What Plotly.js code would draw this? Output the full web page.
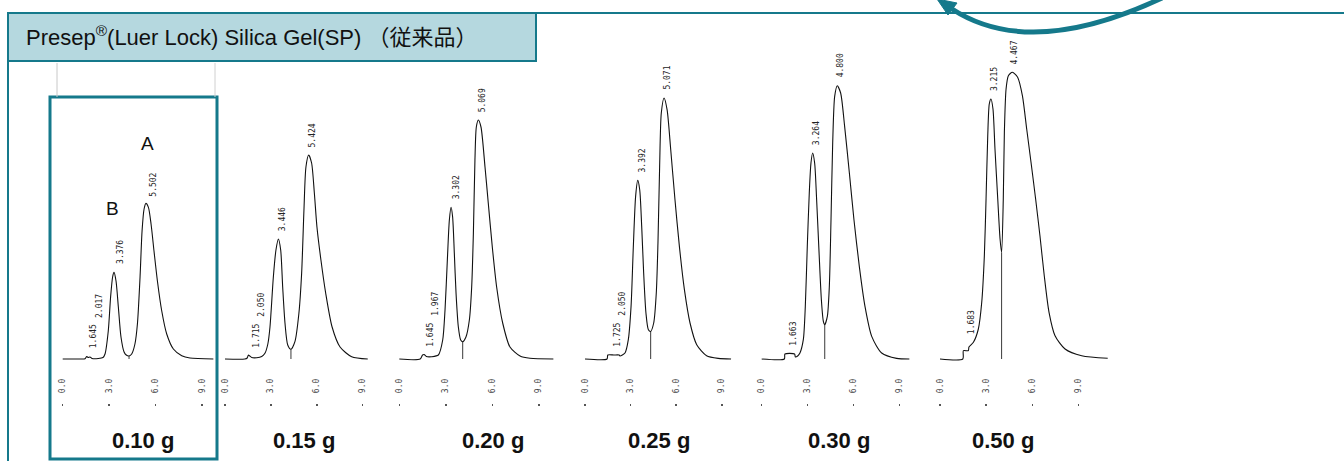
<!DOCTYPE html>
<html><head><meta charset="utf-8">
<script src="https://cdn.plot.ly/plotly-3.0.1.min.js"></script>
<style>html,body{margin:0;padding:0;background:#fff;overflow:hidden}#chart{width:1344px;height:461px}</style>
</head><body><div id="chart"></div>
<script>
// ---------- data ----------
const loadings = ['0.10 g','0.15 g','0.20 g','0.25 g','0.30 g','0.50 g'];

const time_010   = [0,1.2,1.44,1.55,1.65,1.76,1.9,2.3,2.6,2.73,2.94,3.09,3.22,3.31,3.44,3.59,3.76,3.96,4.1,4.28,4.45,4.66,4.82,4.99,5.12,5.25,5.37,5.53,5.7,5.89,6.11,6.39,6.71,7.14,7.68,8.21,9.72];
const signal_010 = [0,0,0.3,2.5,1.5,2,0.5,0.5,1.5,5,28,62,82,86.6,78,52,22,7,4,3,5,15,35,82,128,150,155.6,151.6,135,108,78,48,25,10,3.3,1,0];
const peaks_010  = ['1.645','2.017','3.376','5.502'];

const time_015   = [0,1.3,1.45,1.53,1.62,1.75,2.07,2.4,2.61,2.8,2.94,3.16,3.33,3.49,3.64,3.77,3.92,4.1,4.31,4.57,4.83,5.01,5.16,5.29,5.47,5.66,5.84,6.01,6.27,6.58,7.0,7.52,8.28,9.33];
const signal_015 = [0,0,1,4,3,1.5,1.3,2.5,5.7,15,32,82,109,120,109,72,36,14,9.7,17.3,45.7,86,149,192,204,196,166,132,99,66,32,12,2.3,0];
const peaks_015  = ['1.715','2.050','3.446','5.424'];

const time_020   = [0,1.35,1.5,1.6,1.75,2.09,2.52,2.8,2.95,3.1,3.23,3.34,3.44,3.55,3.66,3.81,3.96,4.09,4.3,4.52,4.67,4.78,4.88,4.97,5.1,5.27,5.53,5.74,6.0,6.28,6.67,7.14,7.79,8.43,9.94];
const signal_020 = [0,0,4,4.5,2.5,2.3,4,19,49,99,139,151.7,142,106,66,32,19,17.3,22,39,72,126,199,232,239,232,192,156,112,72,36,12,3,0.7,0];
const peaks_020  = ['1.645','1.967','3.302','5.069'];

const time_025   = [0,1.45,1.5,1.9,2.25,2.3,2.63,2.85,3.03,3.18,3.33,3.47,3.6,3.73,3.86,4.01,4.17,4.32,4.52,4.69,4.8,4.91,5.02,5.2,5.4,5.64,5.92,6.21,6.54,6.91,7.35,8.0,8.77,9.61];
const signal_025 = [0,0,4,4,4,3,6,19.3,52.6,112.6,162.6,178.6,169.3,132.6,86,46,29.3,27.6,36,66,116,192.6,246,261,249.3,209.3,159.3,112.6,69.3,36,14.3,3.3,0.6,0];
const peaks_025  = ['1.725','2.050','3.392','5.071'];

const time_030   = [0,1.48,1.52,2.15,2.2,2.35,2.5,2.72,2.85,2.98,3.11,3.22,3.33,3.46,3.59,3.75,3.9,4.03,4.12,4.29,4.42,4.53,4.64,4.77,4.94,5.16,5.42,5.73,6.03,6.38,6.75,7.19,7.84,8.82,9.65];
const signal_030 = [0,0,5,5,2,3,6,19.3,52.6,112.6,166,196,206,196,159.3,106,59.3,37.6,34.3,42.6,72.6,139.3,216,262.6,273.3,266,232.6,186,139.3,92.6,52.6,22.6,6,0.6,0];
const peaks_030  = ['1.663','3.264','4.800'];

const time_050   = [0,1.48,1.52,1.84,1.88,2.17,2.49,2.71,2.88,2.99,3.1,3.2,3.31,3.44,3.57,3.75,3.9,4.0,4.11,4.18,4.29,4.44,4.7,5.04,5.35,5.63,5.91,6.21,6.49,6.77,7.08,7.47,8.12,9.2,10.89];
const signal_050 = [0,0,8.3,8.3,12,16.7,30,56.7,103.3,160,223.3,255,260,250,210,160,120,106.7,160,226.7,270,283.3,286.7,281.7,263.3,230,196.7,160,123.3,83.3,46.7,23.3,10,3.3,0.7];
const peaks_050  = ['1.683','3.215','4.467'];

const tickVals = [0,3,6,9];
const tickText = ['0.0','3.0','6.0','9.0'];

const headerText = 'Presep<sup>®</sup>(Luer Lock) Silica Gel(SP) （従来品）';

// ---------- layout ----------
const W = 1344, H = 461;
const TEAL = '#15798b';
const px = x => x / W, py = y => 1 - y / H;

const panels = [
  {t: time_010, s: signal_010, p: peaks_010, x0: 62.7, ppm: 15.5, lx: 143},
  {t: time_015, s: signal_015, p: peaks_015, x0: 225,  ppm: 15.3, lx: 303.5},
  {t: time_020, s: signal_020, p: peaks_020, x0: 399.3,ppm: 15.5, lx: 492.5},
  {t: time_025, s: signal_025, p: peaks_025, x0: 585,  ppm: 15.2, lx: 659},
  {t: time_030, s: signal_030, p: peaks_030, x0: 761.7,ppm: 15.3, lx: 838.5},
  {t: time_050, s: signal_050, p: peaks_050, x0: 940,  ppm: 15.4, lx: 1002.5}
];

const RMIN = -0.4, RMAX = 11.2;
const yTopPx = 50, yAxisPx = 403, basePx = 359;

function interp(t, s, x) {
  if (x <= t[0]) return s[0];
  for (let i = 1; i < t.length; i++) {
    if (x <= t[i]) { const f = (x - t[i-1]) / (t[i] - t[i-1]); return s[i-1] + f * (s[i] - s[i-1]); }
  }
  return s[s.length - 1];
}
function maxIn(t, s, a, b) {
  let m = Math.max(interp(t, s, a), interp(t, s, b));
  for (let i = 0; i < t.length; i++) if (t[i] >= a && t[i] <= b) m = Math.max(m, s[i]);
  return m;
}

const traces = [], annotations = [], layout = {
  width: W, height: H, margin: {l: 0, r: 0, t: 0, b: 0},
  paper_bgcolor: '#fff', plot_bgcolor: 'rgba(0,0,0,0)', showlegend: false,
  font: {family: 'Liberation Sans, Arial, sans-serif'}
};

panels.forEach((P, i) => {
  const k = i + 1, xa = 'x' + (k === 1 ? '' : k), ya = 'y' + (k === 1 ? '' : k);
  layout['xaxis' + (k === 1 ? '' : k)] = {
    domain: [px(P.x0 + RMIN * P.ppm), px(P.x0 + RMAX * P.ppm)],
    range: [RMIN, RMAX], anchor: ya, fixedrange: true,
    showgrid: false, zeroline: false, showline: false,
    tickvals: tickVals, ticktext: tickText, tickangle: -90,
    ticks: 'outside', ticklen: 2, tickwidth: 1.5, tickcolor: '#555',
    ticklabelposition: 'inside', ticklabelstandoff: 4,
    tickfont: {family: 'DejaVu Sans Mono, monospace', size: 8, color: '#444'}
  };
  layout['yaxis' + (k === 1 ? '' : k)] = {
    domain: [py(yAxisPx), py(yTopPx)],
    range: [-(yAxisPx - basePx), basePx - yTopPx], anchor: xa,
    visible: false, fixedrange: true
  };
  traces.push({
    type: 'scatter', mode: 'lines', x: P.t, y: P.s, xaxis: xa, yaxis: ya,
    line: {color: '#111', width: 1.1, shape: 'spline', smoothing: 0.7},
    hoverinfo: 'skip'
  });
  // valley drop line between the two main peaks
  let vi = -1;
  P.t.forEach((tt, j) => { if (tt > 3.6 && tt < 4.6 && (vi < 0 || P.s[j] < P.s[vi])) vi = j; });
  traces.push({
    type: 'scatter', mode: 'lines', x: [P.t[vi], P.t[vi]], y: [0, P.s[vi]], xaxis: xa, yaxis: ya,
    line: {color: '#222', width: 0.9}, hoverinfo: 'skip'
  });
  // retention-time labels
  let prev = null;
  P.p.forEach(lbl => {
    const rt = parseFloat(lbl);
    let bottom = maxIn(P.t, P.s, rt - 0.1, rt + 0.5) + 7;
    const len = lbl.length * 4.8 + 2;
    if (prev && Math.abs(rt - prev.rt) * P.ppm < 11) bottom = Math.max(bottom, prev.bottom + prev.len + 5);
    annotations.push({
      xref: xa, yref: ya, x: rt, y: bottom, text: lbl, textangle: -90, showarrow: false,
      xanchor: 'left', yanchor: 'bottom', borderpad: 0,
      font: {family: 'DejaVu Sans Mono, monospace', size: 8, color: '#222'}
    });
    prev = {rt, bottom, len};
  });
  // sample loading label
  annotations.push({
    xref: 'paper', yref: 'paper', x: px(P.lx), y: py(440), text: '<b>' + loadings[i] + '</b>',
    showarrow: false, xanchor: 'center', yanchor: 'middle',
    font: {family: 'Liberation Sans, Arial, sans-serif', size: 22, color: '#111'}
  });
});

// A / B peak identifiers on the first chromatogram
annotations.push({xref: 'x', yref: 'y', x: 5.5, y: 215, text: 'A', showarrow: false,
  font: {family: 'Liberation Sans, Arial', size: 19, color: '#111'}});
annotations.push({xref: 'x', yref: 'y', x: 3.2, y: 150, text: 'B', showarrow: false,
  font: {family: 'Liberation Sans, Arial', size: 19, color: '#111'}});

// header
annotations.push({xref: 'paper', yref: 'paper', x: px(24), y: py(36), text: headerText,
  showarrow: false, xanchor: 'left', yanchor: 'middle',
  font: {family: 'Liberation Sans, Arial, Noto Sans CJK JP, sans-serif', size: 22, color: '#111'}});

const P2 = (x, y) => px(x) + ',' + py(y);
layout.shapes = [
  {type: 'line', xref: 'paper', yref: 'paper', x0: px(8), x1: px(1344), y0: py(13), y1: py(13), line: {color: TEAL, width: 2}},
  {type: 'line', xref: 'paper', yref: 'paper', x0: px(8), x1: px(8), y0: py(13), y1: py(461), line: {color: TEAL, width: 2}},
  {type: 'rect', xref: 'paper', yref: 'paper', x0: px(8), x1: px(536), y0: py(61), y1: py(13), fillcolor: '#b5d8df', line: {color: TEAL, width: 2}, layer: 'below'},
  {type: 'rect', xref: 'paper', yref: 'paper', x0: px(50), x1: px(217), y0: py(459), y1: py(97), line: {color: TEAL, width: 3}},
  {type: 'line', xref: 'paper', yref: 'paper', x0: px(57), x1: px(57), y0: py(63), y1: py(97), line: {color: '#c8c8c8', width: 1}},
  {type: 'line', xref: 'paper', yref: 'paper', x0: px(215), x1: px(215), y0: py(63), y1: py(97), line: {color: '#d0d0d0', width: 1}},
  {type: 'path', xref: 'paper', yref: 'paper', path: 'M' + P2(952, 9) + ' Q' + P2(1030, 60) + ' ' + P2(1162, -2),
   line: {color: TEAL, width: 5}},
  {type: 'path', xref: 'paper', yref: 'paper', path: 'M' + P2(937, -1) + ' L' + P2(957, 3) + ' L' + P2(948, 15) + ' Z',
   fillcolor: TEAL, line: {color: TEAL, width: 1}}
];
layout.annotations = annotations;

Plotly.newPlot('chart', traces, layout, {staticPlot: true, displayModeBar: false});
</script>
</body></html>
